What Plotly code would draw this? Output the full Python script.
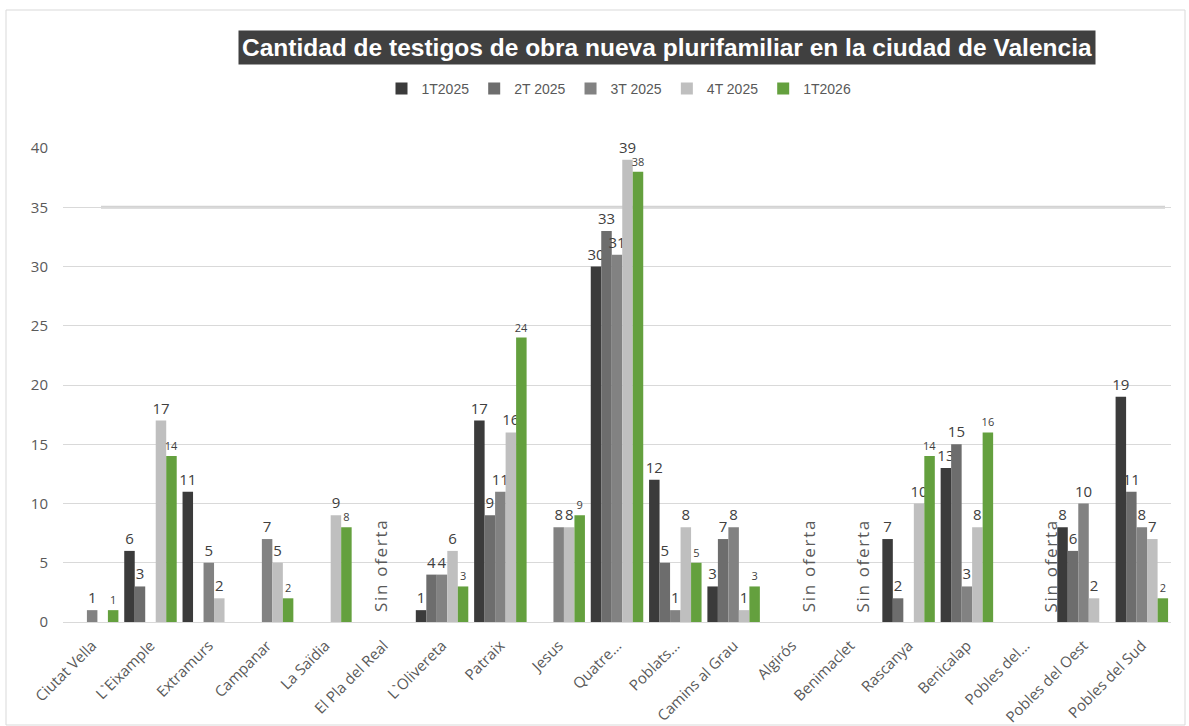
import plotly.graph_objects as go

categories = ["Ciutat Vella", "L`Eixample", "Extramurs", "Campanar", "La Saïdia",
              "El Pla del Real", "L`Olivereta", "Patraix", "Jesus", "Quatre...",
              "Poblats...", "Camins al Grau", "Algirós", "Benimaclet", "Rascanya",
              "Benicalap", "Pobles del...", "Pobles del Oest", "Pobles del Sud"]

series_names = ["1T2025", "2T 2025", "3T 2025", "4T 2025", "1T2026"]
t1_2025 = [0, 6, 11, 0, 0, 0, 1, 17, 0, 30, 12, 3, 0, 0, 7, 13, 0, 8, 19]
t2_2025 = [0, 3, 0, 0, 0, 0, 4, 9, 0, 33, 5, 7, 0, 0, 2, 15, 0, 6, 11]
t3_2025 = [1, 0, 5, 7, 0, 0, 4, 11, 8, 31, 1, 8, 0, 0, 0, 3, 0, 10, 8]
t4_2025 = [0, 17, 2, 5, 9, 0, 6, 16, 8, 39, 8, 1, 0, 0, 10, 8, 0, 2, 7]
t1_2026 = [1, 14, 0, 2, 8, 0, 3, 24, 9, 38, 5, 3, 0, 0, 14, 16, 0, 0, 2]

sin_oferta = ["El Pla del Real", "Algirós", "Benimaclet", "Pobles del..."]
sin_oferta_shift = [-3, 16, 12, 25]

y_ticks = [0, 5, 10, 15, 20, 25, 30, 35, 40]

colors = ["#3b3b3b", "#6d6d6d", "#828282", "#bfbfbf", "#64a03e"]
label_sizes = [15, 15, 15, 15, 11]

all_series = [t1_2025, t2_2025, t3_2025, t4_2025, t1_2026]

W, H = 1189, 726
l, r, t, b = 63, 18, 148, 104
pw, ph = W - l - r, H - t - b

fig = go.Figure()
for name, vals, col, ls in zip(series_names, all_series, colors, label_sizes):
    fig.add_trace(go.Bar(
        x=categories, y=vals, name=name,
        marker=dict(color=col, line=dict(width=0)),
        text=[str(v) if v else "" for v in vals],
        textposition="outside",
        textfont=dict(family="Open Sans", size=ls, color="#404040"),
        constraintext="none",
        cliponaxis=False,
    ))

hs = "\u200a"
sin_text = hs.join(list("Sin oferta"))
for cat, sh in zip(sin_oferta, sin_oferta_shift):
    fig.add_annotation(x=cat, y=4.7, xref="x", yref="y", xshift=sh,
                       text=sin_text, textangle=-90, showarrow=False,
                       font=dict(family="Open Sans", size=17, color="#595959"))

# title box
fig.add_annotation(x=(667 - l) / pw, y=(H - b - 47.5) / ph, xref="paper", yref="paper",
                   xanchor="center", yanchor="middle",
                   text="<b>Cantidad de testigos de obra nueva plurifamiliar en la ciudad de Valencia</b>",
                   showarrow=False, bgcolor="#404040", borderpad=3,
                   font=dict(family="Liberation Sans", size=24.5, color="white"))

fig.update_layout(
    width=W, height=H,
    margin=dict(l=l, r=r, t=t, b=b, autoexpand=False),
    paper_bgcolor="white", plot_bgcolor="white",
    barmode="group", bargap=0.1, bargroupgap=0.0,
    legend=dict(orientation="h", x=(619 - l) / pw, xanchor="center",
                y=(H - b - 89) / ph, yanchor="middle",
                font=dict(family="Liberation Sans", size=14, color="#595959"),
                itemwidth=30, tracegroupgap=0, traceorder="normal"),
    xaxis=dict(type="category", tickangle=-45, showgrid=False, automargin=False,
               showline=True, linecolor="#d9d9d9", linewidth=1,
               tickfont=dict(family="Open Sans", size=15, color="#595959"),
               ticks="", ticklabelstandoff=8),
    yaxis=dict(range=[0, 40], tickvals=y_ticks, showgrid=True, gridcolor="#d9d9d9",
               gridwidth=1, zeroline=False, ticks="", ticklen=0, automargin=False,
               ticklabelstandoff=14,
               tickfont=dict(family="Open Sans", size=15, color="#595959")),
    showlegend=True,
)

# thicker line at 35 and chart frame
fig.add_shape(type="line", xref="paper", yref="y",
              x0=(101 - l) / pw, x1=(1165 - l) / pw, y0=35, y1=35,
              line=dict(color="#d3d3d3", width=3), layer="below")
fig.add_shape(type="rect", xref="paper", yref="paper",
              x0=(6 - l) / pw, x1=(1185 - l) / pw,
              y0=(H - b - 725) / ph, y1=(H - b - 10) / ph,
              line=dict(color="#d9d9d9", width=1))

fig.write_html("out.html")
